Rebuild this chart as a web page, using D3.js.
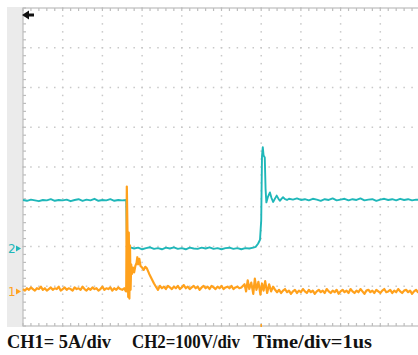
<!DOCTYPE html>
<html>
<head>
<meta charset="utf-8">
<script src="https://cdn.jsdelivr.net/npm/d3@7"></script>
<style>
  body { margin: 0; background: #fff; }
  svg { display: block; }
</style>
</head>
<body>
<div id="scope"></div>
<script>
/* DATA: time in us, CH2 in volts, CH1 in amps */
var ch2Trace = [
  [0.00,122],[0.10,120],[0.20,123],[0.30,121],[0.40,119],[0.50,122],[0.60,121],[0.70,124],[0.80,120],[0.90,122],
  [1.00,121],[1.10,123],[1.20,119],[1.30,122],[1.40,124],[1.50,120],[1.60,123],[1.70,121],[1.80,125],[1.90,120],
  [2.00,122],[2.10,121],[2.20,124],[2.30,120],[2.40,122],[2.50,121],[2.60,122],
  [2.62,2],[2.65,-1],[2.70,3],[2.80,0],[2.90,2],[3.00,-2],[3.10,1],[3.20,3],[3.30,-1],[3.40,1],[3.50,-2],
  [3.60,2],[3.70,0],[3.80,3],[3.90,-1],[4.00,1],[4.10,-2],[4.20,2],[4.30,0],[4.40,-1],[4.50,2],[4.60,0],
  [4.70,3],[4.80,-1],[4.90,1],[5.00,-2],[5.10,1],[5.20,2],[5.30,-1],[5.40,1],[5.50,-2],[5.60,1],[5.70,0],
  [5.80,2],[5.86,4],[5.92,12],[5.97,22],
  [6.00,70],[6.02,232],[6.04,255],[6.06,234],[6.09,229],[6.11,150],[6.13,116],[6.17,130],[6.22,141],[6.26,127],
  [6.30,117],[6.35,126],[6.39,133],[6.43,126],[6.47,120],[6.51,125],[6.55,129],[6.60,124],[6.65,122],[6.70,125],
  [6.80,123],[6.90,126],[7.00,122],[7.10,124],[7.20,121],[7.30,125],[7.40,123],[7.50,120],[7.60,124],[7.70,122],
  [7.80,126],[7.90,121],[8.00,123],[8.10,125],[8.20,121],[8.30,124],[8.40,122],[8.50,126],[8.60,121],[8.70,123],
  [8.80,124],[8.90,120],[9.00,123],[9.10,125],[9.20,122],[9.30,124],[9.40,121],[9.50,125],[9.60,122],[9.70,124],
  [9.80,121],[9.90,123],[10.00,122]
];

var ch1Trace = [
  [0.00,0.3],[0.05,0.1],[0.10,0.4],[0.15,0.2],[0.20,0.5],[0.25,0.3],[0.30,0.1],[0.35,0.4],[0.40,0.3],[0.45,0.6],
  [0.50,0.2],[0.55,0.4],[0.60,0.1],[0.65,0.3],[0.70,0.5],[0.75,0.2],[0.80,0.4],[0.85,0.3],[0.90,0.6],[0.95,0.1],
  [1.00,0.3],[1.05,0.5],[1.10,0.2],[1.15,0.4],[1.20,0.3],[1.25,0.1],[1.30,0.5],[1.35,0.3],[1.40,0.4],[1.45,0.2],
  [1.50,0.6],[1.55,0.3],[1.60,0.1],[1.65,0.4],[1.70,0.2],[1.75,0.5],[1.80,0.3],[1.85,0.4],[1.90,0.1],[1.95,0.3],
  [2.00,0.6],[2.05,0.2],[2.10,0.4],[2.15,0.3],[2.20,0.5],[2.25,0.1],[2.30,0.4],[2.35,0.2],[2.40,0.5],[2.45,0.3],
  [2.50,0.2],[2.55,0.4],[2.58,0.1],
  [2.60,0.0],[2.615,13.2],[2.635,6.6],[2.65,-0.7],[2.665,7.4],[2.68,-0.9],[2.695,5.8],[2.71,0.2],[2.725,3.4],
  [2.745,2.2],[2.77,3.0],[2.80,2.4],[2.83,3.2],[2.86,3.6],[2.88,4.3],[2.90,3.4],[2.93,4.1],[2.96,3.2],[3.00,3.0],
  [3.04,2.7],[3.08,3.1],[3.12,2.9],[3.18,2.2],[3.24,1.6],[3.30,1.0],[3.36,0.5],[3.40,0.2],[3.45,0.7],
  [3.50,0.4],[3.55,0.6],[3.60,0.3],[3.65,0.7],[3.70,0.5],[3.75,0.3],[3.80,0.6],[3.85,0.4],[3.90,0.7],[3.95,0.3],
  [4.00,0.5],[4.05,0.8],[4.10,0.4],[4.15,0.6],[4.20,0.3],[4.25,0.5],[4.30,0.7],[4.35,0.4],[4.40,0.6],[4.45,0.2],
  [4.50,0.5],[4.55,0.7],[4.60,0.4],[4.65,0.6],[4.70,0.3],[4.75,0.7],[4.80,0.5],[4.85,0.3],[4.90,0.6],[4.95,0.4],
  [5.00,0.7],[5.05,0.3],[5.10,0.5],[5.15,0.6],[5.20,0.4],[5.25,0.7],[5.30,0.3],[5.35,0.5],[5.40,0.6],[5.45,0.4],
  [5.50,0.5],[5.58,0.9],[5.62,0.0],[5.66,1.4],[5.70,0.3],[5.75,1.1],[5.80,-0.3],[5.84,1.6],[5.88,0.2],[5.93,1.2],
  [5.98,-0.4],[6.02,1.0],[6.06,0.1],[6.10,1.3],[6.15,-0.2],[6.20,0.9],[6.25,0.0],[6.30,0.6],
  [6.35,0.2],[6.40,-0.1],[6.45,0.2],[6.50,-0.2],[6.55,0.1],[6.60,0.3],[6.65,-0.1],[6.70,0.1],[6.75,-0.3],[6.80,0.0],
  [6.85,0.2],[6.90,-0.2],[6.95,0.1],[7.00,-0.1],[7.05,0.3],[7.10,0.0],[7.15,-0.2],[7.20,0.2],[7.25,-0.1],[7.30,0.1],
  [7.35,-0.3],[7.40,0.0],[7.45,0.2],[7.50,-0.1],[7.55,0.1],[7.60,-0.2],[7.65,0.3],[7.70,0.0],[7.75,-0.2],[7.80,0.1],
  [7.85,-0.1],[7.90,0.2],[7.95,-0.3],[8.00,0.0],[8.05,0.2],[8.10,-0.1],[8.15,0.1],[8.20,-0.2],[8.25,0.3],[8.30,0.0],
  [8.35,-0.2],[8.40,0.1],[8.45,-0.1],[8.50,0.3],[8.55,0.0],[8.60,-0.3],[8.65,0.1],[8.70,0.2],[8.75,-0.1],[8.80,0.1],
  [8.85,-0.2],[8.90,0.2],[8.95,0.0],[9.00,-0.2],[9.05,0.1],[9.10,0.3],[9.15,-0.1],[9.20,0.0],[9.25,0.2],[9.30,-0.2],
  [9.35,0.1],[9.40,-0.1],[9.45,0.3],[9.50,0.0],[9.55,-0.2],[9.60,0.1],[9.65,0.2],[9.70,-0.1],[9.75,0.1],[9.80,-0.3],
  [9.85,0.0],[9.90,0.2],[9.95,-0.1],[10.00,0.1]
];

/* settings shown on the scope */
var captionParts = ["CH1= 5A/div", "CH2=100V/div", "Time/div=1us"];
var ch1AmpsPerDiv = 5, ch2VoltsPerDiv = 100;
var ch1Offset = -3.13, ch2Offset = -2.05;   /* ground positions, in screen divisions */
var channelLabels = ["1", "2"];

var W = 418, H = 355;
var cyan = "#1fb7b9", orange = "#ffa11c";

var svg = d3.select("#scope").append("svg")
  .attr("width", W).attr("height", H);

svg.append("rect").attr("width", W).attr("height", H).attr("fill", "#fff");

/* screen scales: 10 time divs, 8 vertical divs */
var x = d3.scaleLinear().domain([0, 10]).range([23, 420]);
var yDiv = d3.scaleLinear().domain([-4, 4]).range([326, 8]);
var y1 = d3.scaleLinear().domain([0, ch1AmpsPerDiv]).range([yDiv(ch1Offset), yDiv(ch1Offset + 1)]);
var y2 = d3.scaleLinear().domain([0, ch2VoltsPerDiv]).range([yDiv(ch2Offset), yDiv(ch2Offset + 1)]);

/* left grey strip */
svg.append("rect").attr("x", 7).attr("y", 7).attr("width", 16).attr("height", 320).attr("fill", "#ebebeb");

/* dotted grid */
var grid = svg.append("g").attr("fill", "#c8c8c8");
var minorX = d3.range(0, 10.001, 0.2), minorY = d3.range(-4, 4.001, 0.2);
x.ticks(10).filter(function(d){ return d > 0 && d < 10; }).forEach(function(t) {
  grid.selectAll(null).data(minorY).enter().append("rect")
    .attr("x", x(t) - 0.75).attr("y", function(d){ return yDiv(d) - 0.75; })
    .attr("width", 1.5).attr("height", 1.5);
});
yDiv.ticks(8).filter(function(d){ return d > -4 && d < 4; }).forEach(function(v) {
  grid.selectAll(null).data(minorX).enter().append("rect")
    .attr("x", function(d){ return x(d) - 0.75; }).attr("y", yDiv(v) - 0.75)
    .attr("width", 1.5).attr("height", 1.5);
});

/* border with minor ticks */
var border = svg.append("g").attr("stroke", "#bdbdbd").attr("stroke-width", 1.2);
border.append("rect").attr("x", x(0)).attr("y", yDiv(4)).attr("width", x(10) - x(0)).attr("height", yDiv(-4) - yDiv(4)).attr("fill", "none");
border.selectAll(".tt").data(minorX).enter().append("line")
  .attr("x1", function(d){ return x(d); }).attr("x2", function(d){ return x(d); })
  .attr("y1", yDiv(4)).attr("y2", yDiv(4) + 3);
border.selectAll(".bt").data(minorX).enter().append("line")
  .attr("x1", function(d){ return x(d); }).attr("x2", function(d){ return x(d); })
  .attr("y1", yDiv(-4)).attr("y2", yDiv(-4) - 3);
border.selectAll(".lt").data(minorY).enter().append("line")
  .attr("x1", x(0)).attr("x2", x(0) + 3)
  .attr("y1", function(d){ return yDiv(d); }).attr("y2", function(d){ return yDiv(d); });

/* trigger arrow top-left */
svg.append("path")
  .attr("d", "M22,15 L29,10.5 L29,13.6 L34,13.6 L34,16.4 L29,16.4 L29,19.5 Z")
  .attr("fill", "#111");

/* small trigger mark on bottom border */
svg.append("line").attr("x1", x(6)).attr("x2", x(6)).attr("y1", yDiv(-4) - 2).attr("y2", yDiv(-4) + 1)
  .attr("stroke", orange).attr("stroke-width", 1.5);

/* traces */
var line2 = d3.line().x(function(d){ return x(d[0]); }).y(function(d){ return y2(d[1]); });
var line1 = d3.line().x(function(d){ return x(d[0]); }).y(function(d){ return y1(d[1]); });

svg.append("path").datum(ch2Trace).attr("d", line2)
  .attr("fill", "none").attr("stroke", cyan).attr("stroke-width", 1.9).attr("stroke-linejoin", "round");
svg.append("path").datum(ch1Trace).attr("d", line1)
  .attr("fill", "none").attr("stroke", orange).attr("stroke-width", 2.2).attr("stroke-linejoin", "round");

/* channel ground markers */
[[channelLabels[0], y1(0), orange], [channelLabels[1], y2(0), cyan]].forEach(function(m) {
  svg.append("text").attr("x", 8).attr("y", m[1] + 4.5).text(m[0])
    .attr("fill", m[2]).style("font-family", "DejaVu Sans, sans-serif").style("font-size", "12px");
  svg.append("path").attr("d", "M16," + (m[1] - 3) + " L21," + m[1] + " L16," + (m[1] + 3) + " Z")
    .attr("fill", m[2]);
});

/* caption */
var capX = [7, 132, 253], capLen = [104, 108, 119];
svg.selectAll(".cap").data(captionParts).enter().append("text")
  .attr("x", function(d, i){ return capX[i]; }).attr("y", 348)
  .attr("textLength", function(d, i){ return capLen[i]; })
  .attr("lengthAdjust", "spacingAndGlyphs")
  .text(function(d){ return d; })
  .style("font-family", "Liberation Serif, Times New Roman, serif")
  .style("font-weight", "bold").style("font-size", "18px").attr("fill", "#111");
</script>
</body>
</html>
